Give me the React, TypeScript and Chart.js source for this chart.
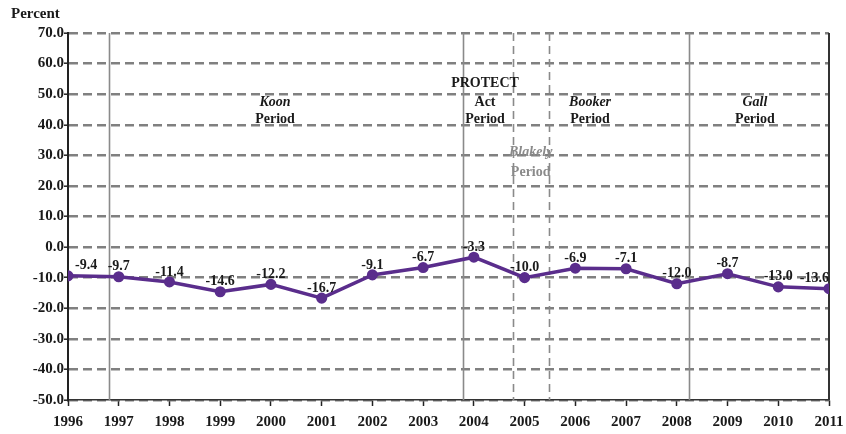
import React, { useEffect, useRef } from "react";
import { Chart, registerables } from "chart.js";

Chart.register(...registerables);

const years = [1996, 1997, 1998, 1999, 2000, 2001, 2002, 2003, 2004, 2005, 2006, 2007, 2008, 2009, 2010, 2011];
const values = [-9.4, -9.7, -11.4, -14.6, -12.2, -16.7, -9.1, -6.7, -3.3, -10.0, -6.9, -7.1, -12.0, -8.7, -13.0, -13.6];
const valueLabels = ["-9.4", "-9.7", "-11.4", "-14.6", "-12.2", "-16.7", "-9.1", "-6.7", "-3.3", "-10.0", "-6.9", "-7.1", "-12.0", "-8.7", "-13.0", "-13.6"];

const yMin = -50;
const yMax = 70;
const yStep = 10;

const solidPeriodLines = [1996.81, 2003.79, 2008.24];
const dashedPeriodLines = [2004.77, 2005.48];

// period annotations: [x (year), y (percent), text, italic, grey]
const periodTexts: [number, number, string, boolean, boolean][] = [
  [2000.08, 47.4, "Koon", true, false],
  [2000.08, 41.6, "Period", false, false],
  [2004.22, 53.6, "PROTECT", false, false],
  [2004.22, 47.4, "Act", false, false],
  [2004.22, 41.6, "Period", false, false],
  [2006.29, 47.4, "Booker", true, false],
  [2006.29, 41.6, "Period", false, false],
  [2005.12, 31.1, "Blakely", true, true],
  [2005.12, 24.5, "Period", false, true],
  [2009.54, 47.4, "Gall", true, false],
  [2009.54, 41.6, "Period", false, false],
];

const axisTitle = "Percent";

const SERIF = "'Liberation Serif', 'Times New Roman', serif";
const PURPLE = "#5a2d8c";

const overlayPlugin = {
  id: "overlay",
  beforeDatasetsDraw(chart: any) {
    const { ctx, chartArea, scales } = chart;
    const xs = scales.x;
    ctx.save();
    ctx.strokeStyle = "#8a8a8a";
    ctx.lineWidth = 1.6;
    solidPeriodLines.forEach((v) => {
      const px = Math.round(xs.getPixelForValue(v)) + 0.5;
      ctx.beginPath();
      ctx.setLineDash([]);
      ctx.moveTo(px, chartArea.top);
      ctx.lineTo(px, chartArea.bottom);
      ctx.stroke();
    });
    dashedPeriodLines.forEach((v) => {
      const px = Math.round(xs.getPixelForValue(v)) + 0.5;
      ctx.beginPath();
      ctx.setLineDash([8, 5]);
      ctx.moveTo(px, chartArea.top);
      ctx.lineTo(px, chartArea.bottom);
      ctx.stroke();
    });
    ctx.setLineDash([]);
    // right border
    ctx.strokeStyle = "#333";
    ctx.lineWidth = 2;
    ctx.beginPath();
    ctx.moveTo(chartArea.right, chartArea.top);
    ctx.lineTo(chartArea.right, chartArea.bottom);
    ctx.stroke();

    // period texts
    ctx.textAlign = "center";
    ctx.textBaseline = "middle";
    periodTexts.forEach(([x, y, t, italic, grey]) => {
      ctx.font = `${italic ? "italic " : ""}bold 14px ${SERIF}`;
      ctx.fillStyle = grey ? "#8a8a8a" : "#1a1a1a";
      ctx.fillText(t, xs.getPixelForValue(x), scales.y.getPixelForValue(y));
    });
    ctx.restore();
  },
  afterDatasetsDraw(chart: any) {
    const { ctx } = chart;
    const meta = chart.getDatasetMeta(0);
    ctx.save();
    ctx.font = `bold 14px ${SERIF}`;
    ctx.fillStyle = "#1a1a1a";
    ctx.textBaseline = "middle";
    meta.data.forEach((pt: any, i: number) => {
      let x = pt.x;
      if (i === 0) {
        ctx.textAlign = "left";
        x = pt.x + 7;
      } else if (i === meta.data.length - 1) {
        ctx.textAlign = "right";
        x = pt.x;
      } else {
        ctx.textAlign = "center";
      }
      ctx.fillText(valueLabels[i], x, pt.y - 10);
    });
    // axis title
    ctx.font = `bold 15px ${SERIF}`;
    ctx.textAlign = "left";
    ctx.fillText(axisTitle, 11, 14);
    ctx.restore();
  },
};

export default function App() {
  const ref = useRef<HTMLCanvasElement | null>(null);
  useEffect(() => {
    if (!ref.current) return;
    const chart = new Chart(ref.current, {
      type: "line",
      data: {
        datasets: [
          {
            data: years.map((y, i) => ({ x: y, y: values[i] })),
            borderColor: PURPLE,
            backgroundColor: PURPLE,
            borderWidth: 3.5,
            pointRadius: 3.8,
            pointBackgroundColor: PURPLE,
            pointBorderColor: PURPLE,
            tension: 0,
          },
        ],
      },
      options: {
        animation: false,
        responsive: true,
        maintainAspectRatio: false,
        layout: { padding: { left: 0, right: 17, top: 33, bottom: 0 } },
        plugins: { legend: { display: false }, tooltip: { enabled: false } },
        scales: {
          x: {
            type: "linear",
            min: years[0],
            max: years[years.length - 1],
            afterFit: (s: any) => {
              s.height = 34;
              s.paddingLeft = 0;
              s.paddingRight = 0;
            },
            ticks: {
              stepSize: 1,
              autoSkip: false,
              maxRotation: 0,
              padding: 7,
              color: "#1a1a1a",
              font: { family: SERIF, size: 15, weight: "bold" },
              callback: (v: any) => String(v),
            },
            grid: {
              drawOnChartArea: false,
              drawTicks: true,
              tickLength: 6,
              tickColor: "#222",
              tickWidth: 1.5,
            },
            border: { display: true, color: "#333", width: 1.5 },
          },
          y: {
            min: yMin,
            max: yMax,
            afterFit: (s: any) => {
              s.width = 68;
              s.paddingTop = 0;
              s.paddingBottom = 0;
            },
            ticks: {
              stepSize: yStep,
              padding: 0,
              color: "#1a1a1a",
              font: { family: SERIF, size: 15, weight: "bold" },
              callback: (v: any) => Number(v).toFixed(1),
            },
            grid: {
              color: "#808080",
              lineWidth: 2.4,
              drawTicks: true,
              tickLength: 4,
              tickColor: "#222",
              tickWidth: 1.5,
              tickBorderDash: [],
            },
            border: { display: true, color: "#222", width: 2, dash: [9, 5] },
          },
        },
      },
      plugins: [overlayPlugin],
    } as any);
    return () => chart.destroy();
  }, []);
  return (
    <div style={{ position: "absolute", left: 0, top: 0, width: 846, height: 434, background: "#fff" }}>
      <canvas ref={ref} />
    </div>
  );
}
